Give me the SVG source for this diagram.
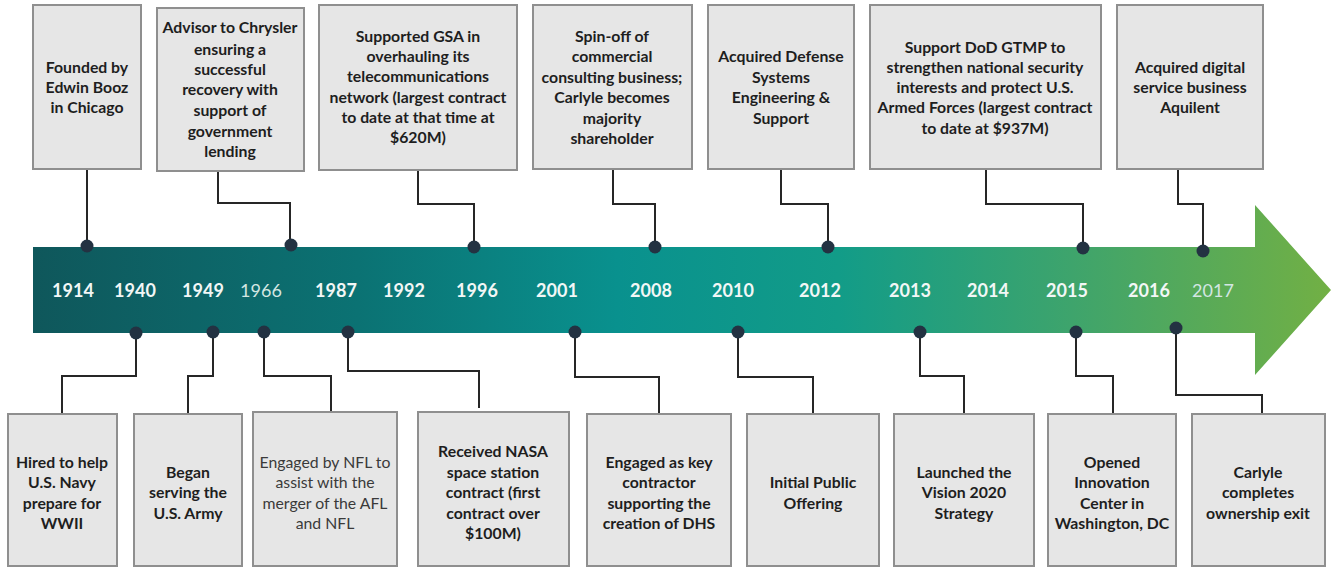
<svg xmlns="http://www.w3.org/2000/svg" width="1332" height="571" viewBox="0 0 1332 571">
<defs>
<linearGradient id="g" x1="33" y1="0" x2="1332" y2="0" gradientUnits="userSpaceOnUse">
<stop offset="0" stop-color="#0f575b"/>
<stop offset="0.25" stop-color="#0b7273"/>
<stop offset="0.45" stop-color="#09918e"/>
<stop offset="0.62" stop-color="#129c88"/>
<stop offset="0.8" stop-color="#3ea46c"/>
<stop offset="1" stop-color="#72b044"/>
</linearGradient>
<style>
.box{fill:#e6e6e6;stroke:#8f8f8f;stroke-width:2}
.t{font-family:Lato,"Liberation Sans",sans-serif;font-size:15.8px;font-weight:bold;fill:#1e1e1e;text-anchor:middle}
.tn{font-weight:normal;fill:#3a3a3a}
.yr{font-family:Lato,"Liberation Sans",sans-serif;font-size:18px;font-weight:bold;fill:#f2f7f6;text-anchor:middle}
.yn{font-weight:normal;fill:#d3e6e2}
.ln{fill:none;stroke:#262626;stroke-width:2}
.dot{fill:#233242}
</style>
</defs>
<g id="timeline">
<polygon points="33,247 1255,247 1255,205 1331,290 1255,375 1255,333 33,333" fill="url(#g)"/>
<g id="years">
<text class="yr" x="73" y="297">1914</text>
<text class="yr" x="135" y="297">1940</text>
<text class="yr" x="203" y="297">1949</text>
<text class="yr yn" x="261" y="297">1966</text>
<text class="yr" x="336" y="297">1987</text>
<text class="yr" x="404" y="297">1992</text>
<text class="yr" x="477" y="297">1996</text>
<text class="yr" x="557" y="297">2001</text>
<text class="yr" x="651" y="297">2008</text>
<text class="yr" x="733" y="297">2010</text>
<text class="yr" x="820" y="297">2012</text>
<text class="yr" x="910" y="297">2013</text>
<text class="yr" x="988" y="297">2014</text>
<text class="yr" x="1067" y="297">2015</text>
<text class="yr" x="1149" y="297">2016</text>
<text class="yr yn" x="1213" y="297">2017</text>
</g>
</g>
<g id="connectors">
<polyline class="ln" points="87,169 87,246"/>
<polyline class="ln" points="218,171 218,203 290,203 290,245"/>
<polyline class="ln" points="418,169 418,204 474,204 474,247"/>
<polyline class="ln" points="613,169 613,204 655,204 655,247"/>
<polyline class="ln" points="781,169 781,204 828,204 828,247"/>
<polyline class="ln" points="986,169 986,204 1083,204 1083,248"/>
<polyline class="ln" points="1178,169 1178,204 1203,204 1203,251"/>
<polyline class="ln" points="136,333 136,376 62,376 62,414"/>
<polyline class="ln" points="213,332 213,376 188,376 188,414"/>
<polyline class="ln" points="264,332 264,376 331,376 331,412"/>
<polyline class="ln" points="348,332 348,371 479,371 479,408"/>
<polyline class="ln" points="575,332 575,377 659,377 659,414"/>
<polyline class="ln" points="738,332 738,377 813,377 813,414"/>
<polyline class="ln" points="920,332 920,376 964,376 964,414"/>
<polyline class="ln" points="1076,332 1076,376 1113,376 1113,414"/>
<polyline class="ln" points="1176,328 1176,395 1262,395 1262,414"/>
<circle class="dot" cx="87" cy="246" r="6.5"/>
<circle class="dot" cx="291" cy="245" r="6.5"/>
<circle class="dot" cx="474" cy="247" r="6.5"/>
<circle class="dot" cx="655" cy="247" r="6.5"/>
<circle class="dot" cx="828" cy="247" r="6.5"/>
<circle class="dot" cx="1083" cy="248" r="6.5"/>
<circle class="dot" cx="1203" cy="251" r="6.5"/>
<circle class="dot" cx="136" cy="333" r="6.5"/>
<circle class="dot" cx="213" cy="332" r="6.5"/>
<circle class="dot" cx="264" cy="332" r="6.5"/>
<circle class="dot" cx="348" cy="332" r="6.5"/>
<circle class="dot" cx="575" cy="332" r="6.5"/>
<circle class="dot" cx="738" cy="332" r="6.5"/>
<circle class="dot" cx="920" cy="332" r="6.5"/>
<circle class="dot" cx="1076" cy="332" r="6.5"/>
<circle class="dot" cx="1176" cy="328" r="6.5"/>
</g>
<g id="n1914"><rect class="box" x="33" y="5" width="108" height="164"/>
<text class="t" x="87" y="73">Founded by</text><text class="t" x="87" y="93">Edwin Booz</text><text class="t" x="87" y="113">in Chicago</text></g>
<g id="n1966"><rect class="box" x="157" y="8" width="147" height="163"/>
<text class="t" x="230" y="33">Advisor to Chrysler</text><text class="t" x="230" y="55">ensuring a</text><text class="t" x="230" y="75">successful</text><text class="t" x="230" y="95">recovery with</text><text class="t" x="230" y="116">support of</text><text class="t" x="230" y="137">government</text><text class="t" x="230" y="157">lending</text></g>
<g id="n1996"><rect class="box" x="319" y="5" width="198" height="165"/>
<text class="t" x="418" y="42">Supported GSA in</text><text class="t" x="418" y="62">overhauling its</text><text class="t" x="418" y="82">telecommunications</text><text class="t" x="418" y="103">network (largest contract</text><text class="t" x="418" y="123">to date at that time at</text><text class="t" x="418" y="143">$620M)</text></g>
<g id="n2008"><rect class="box" x="533" y="5" width="159" height="164"/>
<text class="t" x="612" y="42">Spin-off of</text><text class="t" x="612" y="62">commercial</text><text class="t" x="612" y="83">consulting business;</text><text class="t" x="612" y="103">Carlyle becomes</text><text class="t" x="612" y="124">majority</text><text class="t" x="612" y="144">shareholder</text></g>
<g id="n2012"><rect class="box" x="708" y="5" width="146" height="164"/>
<text class="t" x="781" y="62">Acquired Defense</text><text class="t" x="781" y="83">Systems</text><text class="t" x="781" y="103">Engineering &amp;</text><text class="t" x="781" y="124">Support</text></g>
<g id="n2015"><rect class="box" x="870" y="5" width="231" height="164"/>
<text class="t" x="985" y="53">Support DoD GTMP to</text><text class="t" x="985" y="73">strengthen national security</text><text class="t" x="985" y="93">interests and protect U.S.</text><text class="t" x="985" y="113">Armed Forces (largest contract</text><text class="t" x="985" y="134">to date at $937M)</text></g>
<g id="n2017"><rect class="box" x="1117" y="5" width="146" height="164"/>
<text class="t" x="1190" y="73">Acquired digital</text><text class="t" x="1190" y="93">service business</text><text class="t" x="1190" y="113">Aquilent</text></g>
<g id="n1940"><rect class="box" x="8" y="414" width="109" height="152"/>
<text class="t" x="62" y="468">Hired to help</text><text class="t" x="62" y="488">U.S. Navy</text><text class="t" x="62" y="509">prepare for</text><text class="t" x="62" y="529">WWII</text></g>
<g id="n1949"><rect class="box" x="134" y="414" width="108" height="152"/>
<text class="t" x="188" y="478">Began</text><text class="t" x="188" y="498">serving the</text><text class="t" x="188" y="519">U.S. Army</text></g>
<g id="n1966b"><rect class="box" x="253" y="412" width="144" height="154"/>
<text class="t tn" x="325" y="468">Engaged by NFL to</text><text class="t tn" x="325" y="488">assist with the</text><text class="t tn" x="325" y="509">merger of the AFL</text><text class="t tn" x="325" y="529">and NFL</text></g>
<g id="n1987"><rect class="box" x="418" y="412" width="151" height="154"/>
<text class="t" x="493" y="457">Received NASA</text><text class="t" x="493" y="478">space station</text><text class="t" x="493" y="498">contract (first</text><text class="t" x="493" y="519">contract over</text><text class="t" x="493" y="539">$100M)</text></g>
<g id="n2001"><rect class="box" x="587" y="414" width="144" height="152"/>
<text class="t" x="659" y="468">Engaged as key</text><text class="t" x="659" y="488">contractor</text><text class="t" x="659" y="509">supporting the</text><text class="t" x="659" y="529">creation of DHS</text></g>
<g id="n2010"><rect class="box" x="747" y="414" width="132" height="152"/>
<text class="t" x="813" y="488">Initial Public</text><text class="t" x="813" y="509">Offering</text></g>
<g id="n2013"><rect class="box" x="894" y="414" width="140" height="152"/>
<text class="t" x="964" y="478">Launched the</text><text class="t" x="964" y="498">Vision 2020</text><text class="t" x="964" y="519">Strategy</text></g>
<g id="n2015b"><rect class="box" x="1048" y="414" width="128" height="152"/>
<text class="t" x="1112" y="468">Opened</text><text class="t" x="1112" y="488">Innovation</text><text class="t" x="1112" y="509">Center in</text><text class="t" x="1112" y="529">Washington, DC</text></g>
<g id="n2016"><rect class="box" x="1192" y="414" width="133" height="152"/>
<text class="t" x="1258" y="478">Carlyle</text><text class="t" x="1258" y="498">completes</text><text class="t" x="1258" y="519">ownership exit</text></g>
</svg>
